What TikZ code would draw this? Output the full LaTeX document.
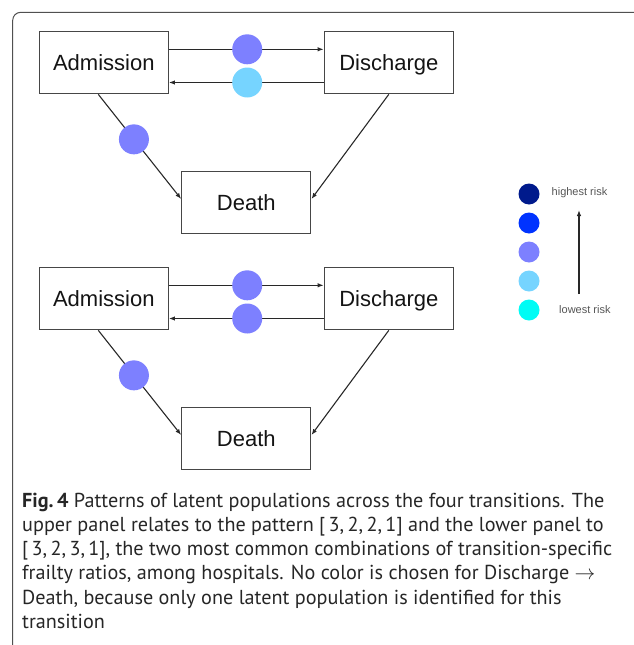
\documentclass[tikz,border=0pt]{standalone}
\usepackage{fontspec}
\setmainfont{Liberation Sans}
\newfontfamily\capfont{PT Sans}
\usetikzlibrary{arrows.meta}
\definecolor{cnavy}{RGB}{0,26,140}
\definecolor{cblue}{RGB}{0,51,255}
\definecolor{cmed}{RGB}{125,128,255}
\definecolor{clight}{RGB}{118,212,255}
\definecolor{ccyan}{RGB}{0,252,245}
\definecolor{boxc}{RGB}{70,70,70}
\definecolor{linec}{RGB}{40,40,40}
\definecolor{framec}{RGB}{80,80,80}
\definecolor{legtext}{RGB}{85,85,85}
\begin{document}
\begin{tikzpicture}[x=1pt,y=-1pt,
  statebox/.style={draw=boxc, line width=1.3pt, minimum width=129pt, minimum height=62pt,
    inner sep=0pt, text=black!92, text height=16pt, text depth=0pt,
    font=\fontsize{22}{26}\selectfont},
  conn/.style={draw=linec, line width=1.1pt, -{Latex[length=6pt,width=4.5pt]}},
  dot/.style={circle, draw=none, inner sep=0pt, minimum size=30pt},
  legdot/.style={circle, draw=none, inner sep=0pt, minimum size=21pt},
  legtxt/.style={anchor=west, inner sep=0pt, text=legtext, font=\fontsize{11}{13}\selectfont},
  capline/.style={anchor=base west, inner sep=0pt, text=black!85, font=\capfont\fontsize{20.2}{24}\selectfont}]
\useasboundingbox (0,0) rectangle (634,645);
\begin{scope}
\clip (0,0) rectangle (634,645);
\draw[framec, line width=1pt, rounded corners=8pt] (12.7,700) |- (700,12.3);
\end{scope}
% upper panel
\node[statebox] (adm1) at (103.8,62.7) {Admission};
\node[statebox] (dis1) at (388.8,62.7) {Discharge};
\node[statebox] (dea1) at (246.3,202.3) {Death};
\draw[conn] ([yshift=13.4pt]adm1.east) -- ([yshift=13.4pt]dis1.west)
  node[dot, fill=cmed, pos=0.506] (c11) {};
\draw[conn] ([yshift=-19.8pt]dis1.west) -- ([yshift=-19.8pt]adm1.east)
  node[dot, fill=clight, pos=0.494] (c12) {};
\draw[conn] ([xshift=-5.5pt]adm1.south) -- ([yshift=3.3pt]dea1.west)
  node[dot, fill=cmed, pos=0.43] (c13) {};
\draw[conn] (dis1.south) -- ([yshift=3.3pt]dea1.east);
% lower panel
\node[statebox] (adm2) at (103.8,298.7) {Admission};
\node[statebox] (dis2) at (388.8,298.7) {Discharge};
\node[statebox] (dea2) at (246.3,438.3) {Death};
\draw[conn] ([yshift=13.4pt]adm2.east) -- ([yshift=13.4pt]dis2.west)
  node[dot, fill=cmed, pos=0.506] (c21) {};
\draw[conn] ([yshift=-19.8pt]dis2.west) -- ([yshift=-19.8pt]adm2.east)
  node[dot, fill=cmed, pos=0.494] (c22) {};
\draw[conn] ([xshift=-5.5pt]adm2.south) -- ([yshift=3.3pt]dea2.west)
  node[dot, fill=cmed, pos=0.43] (c23) {};
\draw[conn] (dis2.south) -- ([yshift=3.3pt]dea2.east);
% legend
\node[legdot, fill=cnavy] (l1) at (529,194) {};
\node[legdot, fill=cblue] (l2) at (529,223) {};
\node[legdot, fill=cmed] (l3) at (529,252) {};
\node[legdot, fill=clight] (l4) at (529,281) {};
\node[legdot, fill=ccyan] (l5) at (529,310) {};
\node[legtxt] (hi) at (551.5,193) {highest risk};
\node[legtxt] (lo) at (559,310) {lowest risk};
\coordinate (la) at (579,294);
\coordinate (lb) at (579,210);
\draw[conn, line width=1.2pt] (la) -- (lb);
% caption
\node[capline] (cap1) at (22,507) {\textbf{Fig.\,4} Patterns of latent populations across the four transitions. The};
\node[capline] (cap2) at (22,531.3) {upper panel relates to the pattern [\,3,\,2,\,2,\,1] and the lower panel to};
\node[capline] (cap3) at (22,555.6) {[\,3,\,2,\,3,\,1], the two most common combinations of transition-specific};
\node[capline] (cap4) at (22,579.9) {frailty ratios, among hospitals. No color is chosen for Discharge $\rightarrow$};
\node[capline] (cap5) at (22,604.2) {Death, because only one latent population is identified for this};
\node[capline] (cap6) at (22,628.5) {transition};
\end{tikzpicture}
\end{document}
